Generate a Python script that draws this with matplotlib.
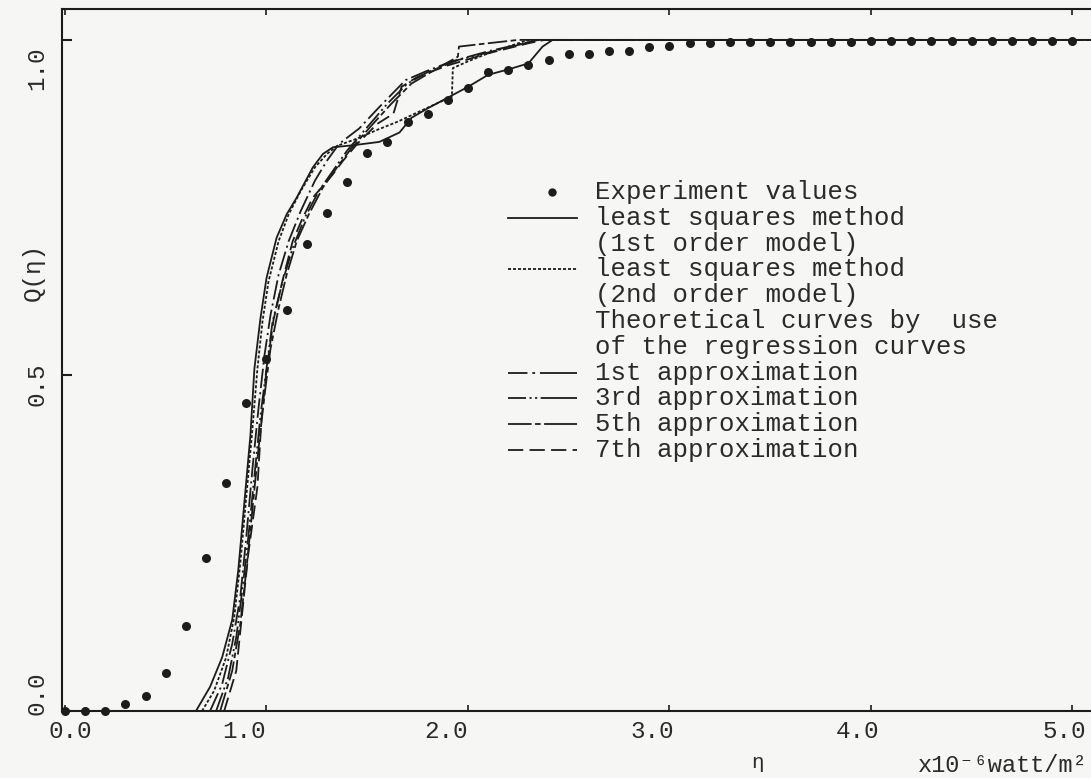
import matplotlib
matplotlib.use("Agg")
import matplotlib.pyplot as plt
from matplotlib.lines import Line2D

plt.rcParams['font.family'] = ['Liberation Mono', 'DejaVu Sans Mono']
plt.rcParams['lines.scale_dashes'] = False

# measured exceedance Q(eta), eta in 1e-6 W/m^2, step 0.1
eta_exp = [0.0, 0.1, 0.2, 0.3, 0.4, 0.5, 0.6, 0.7, 0.8, 0.9,
           1.0, 1.1, 1.2, 1.3, 1.4, 1.5, 1.6, 1.7, 1.8, 1.9,
           2.0, 2.1, 2.2, 2.3, 2.4, 2.5, 2.6, 2.7, 2.8, 2.9,
           3.0, 3.1, 3.2, 3.3, 3.4, 3.5, 3.6, 3.7, 3.8, 3.9,
           4.0, 4.1, 4.2, 4.3, 4.4, 4.5, 4.6, 4.7, 4.8, 4.9, 5.0]
q_exp = [0.0, 0.0, 0.0, 0.010, 0.022, 0.057, 0.127, 0.228, 0.340, 0.459,
         0.524, 0.598, 0.696, 0.742, 0.788, 0.832, 0.848, 0.877, 0.890, 0.910,
         0.928, 0.952, 0.955, 0.963, 0.970, 0.979, 0.979, 0.984, 0.984, 0.990,
         0.991, 0.995, 0.996, 0.997, 0.997, 0.997, 0.997, 0.997, 0.997, 0.997,
         0.998, 0.998, 0.998, 0.998, 0.998, 0.998, 0.998, 0.998, 0.998, 0.998, 0.998]

# least squares, 1st order model
eta_ls1 = [0.65, 0.72, 0.78, 0.83, 0.86, 0.89, 0.92, 0.94, 0.97, 1.00, 1.05, 1.10, 1.15,
           1.23, 1.28, 1.33, 1.43, 1.56, 1.66, 1.72, 1.80, 1.90, 2.00, 2.10, 2.20, 2.30,
           2.37, 2.42, 5.10]
q_ls1 = [0.0, 0.036, 0.08, 0.136, 0.21, 0.31, 0.41, 0.51, 0.585, 0.645, 0.705, 0.74, 0.765,
         0.81, 0.83, 0.84, 0.843, 0.848, 0.862, 0.884, 0.898, 0.914, 0.93, 0.948, 0.956, 0.965,
         0.99, 1.0, 1.0]

# least squares, 2nd order model
eta_ls2 = [0.68, 0.74, 0.80, 0.84, 0.87, 0.90, 0.93, 0.955, 0.98, 1.01, 1.06, 1.11, 1.17,
           1.24, 1.30, 1.35, 1.45, 1.55, 1.65, 1.75, 1.85, 1.92, 1.925, 2.00, 2.10, 2.20,
           2.30, 5.10]
q_ls2 = [0.0, 0.03, 0.08, 0.14, 0.22, 0.32, 0.42, 0.51, 0.58, 0.64, 0.70, 0.74, 0.775,
         0.81, 0.83, 0.842, 0.853, 0.866, 0.878, 0.892, 0.906, 0.915, 0.958, 0.968, 0.98, 0.99,
         1.0, 1.0]

# theoretical curves from the regression curves
eta_ap1 = [0.72, 0.78, 0.83, 0.87, 0.90, 0.93, 0.96, 0.99, 1.02, 1.06, 1.11, 1.17, 1.24,
           1.30, 1.36, 1.46, 1.56, 1.69, 1.79, 1.92, 2.10, 2.35, 5.10]
q_ap1 = [0.0, 0.04, 0.10, 0.17, 0.26, 0.36, 0.45, 0.53, 0.59, 0.65, 0.70, 0.745, 0.79,
         0.82, 0.845, 0.868, 0.90, 0.94, 0.953, 0.968, 0.983, 1.0, 1.0]

eta_ap3 = [0.75, 0.81, 0.85, 0.88, 0.91, 0.94, 0.97, 1.00, 1.03, 1.08, 1.13, 1.19, 1.26,
           1.33, 1.40, 1.50, 1.60, 1.70, 1.80, 1.95, 2.15, 2.35, 5.10]
q_ap3 = [0.0, 0.05, 0.11, 0.18, 0.26, 0.35, 0.44, 0.51, 0.58, 0.64, 0.69, 0.735, 0.775,
         0.805, 0.835, 0.87, 0.905, 0.935, 0.952, 0.97, 0.985, 1.0, 1.0]

eta_ap5 = [0.77, 0.83, 0.87, 0.90, 0.93, 0.96, 0.99, 1.02, 1.06, 1.10, 1.15, 1.21, 1.28,
           1.35, 1.42, 1.52, 1.62, 1.72, 1.85, 1.95, 1.955, 2.10, 2.25, 5.10]
q_ap5 = [0.0, 0.06, 0.13, 0.21, 0.30, 0.39, 0.47, 0.54, 0.60, 0.65, 0.70, 0.74, 0.78,
         0.81, 0.838, 0.872, 0.905, 0.935, 0.958, 0.975, 0.99, 0.995, 1.0, 1.0]

eta_ap7 = [0.79, 0.85, 0.876, 0.91, 0.955, 0.975, 1.00, 1.035, 1.08, 1.13, 1.18, 1.23,
           1.33, 1.38, 1.45, 1.55, 1.63, 1.67, 1.75, 1.90, 2.10, 2.30, 2.38, 5.10]
q_ap7 = [0.0, 0.06, 0.136, 0.235, 0.334, 0.434, 0.508, 0.583, 0.642, 0.70, 0.735, 0.765,
         0.80, 0.82, 0.845, 0.875, 0.89, 0.93, 0.945, 0.962, 0.98, 0.995, 1.0, 1.0]

xticks = [0.0, 1.0, 2.0, 3.0, 4.0, 5.0]
xtick_labels = ['0.0', '1.0', '2.0', '3.0', '4.0', '5.0']
yticks = [0.0, 0.5, 1.0]
ytick_labels = ['0.0', '0.5', '1.0']

legend_rows = ['Experiment values',
               'least squares method',
               '(1st order model)',
               'least squares method',
               '(2nd order model)',
               'Theoretical curves by  use',
               'of the regression curves',
               '1st approximation',
               '3rd approximation',
               '5th approximation',
               '7th approximation']

ink = '#1c1c1c'
paper = '#f6f6f4'

dash_ls1 = '-'
dash_ls2 = (0, (2.2, 1.4))
dash_ap1 = (0, (14, 3, 1.5, 3))
dash_ap3 = (0, (14, 2.5, 1.5, 2.5, 1.5, 2.5))
dash_ap5 = (0, (14, 2.5, 4, 2.5))
dash_ap7 = (0, (10, 4))

fig = plt.figure(figsize=(10.91, 7.78), dpi=100, facecolor=paper)
ax = fig.add_axes([0.0568, 0.0861, 0.9432, 0.9023])
ax.set_facecolor(paper)

lw = 1.3
ax.plot(eta_ls1, q_ls1, color=ink, lw=lw, ls=dash_ls1)
ax.plot(eta_ls2, q_ls2, color=ink, lw=lw, ls=dash_ls2)
ax.plot(eta_ap1, q_ap1, color=ink, lw=lw, ls=dash_ap1)
ax.plot(eta_ap3, q_ap3, color=ink, lw=lw, ls=dash_ap3)
ax.plot(eta_ap5, q_ap5, color=ink, lw=lw, ls=dash_ap5)
ax.plot(eta_ap7, q_ap7, color=ink, lw=lw, ls=dash_ap7)
ax.plot(eta_exp, q_exp, 'o', color=ink, ms=6.5, mec='none', clip_on=False, zorder=5)

ax.set_xlim(-0.015, 5.092)
ax.set_ylim(0.0, 1.046)

for side in ['left', 'bottom', 'top']:
    ax.spines[side].set_linewidth(1.5)
    ax.spines[side].set_color(ink)
ax.spines['right'].set_visible(False)

ax.set_xticks(xticks)
ax.set_xticklabels([])
ax.set_yticks(yticks)
ax.set_yticklabels([])
ax.tick_params(axis='x', direction='in', length=4, width=1.2, color=ink, top=True)
ax.tick_params(axis='y', direction='in', length=7, width=1.5, color=ink)

# tick labels, nudged the way the old plotter placed them
txt = dict(color='#2a2a2a', fontsize=17.5)
xlab_dx = [5, -22, -22, -17, -13, -8]
for v, s, dx in zip(xticks, xtick_labels, xlab_dx):
    ax.annotate(s, xy=(v, 0), xycoords=('data', 'axes fraction'),
                xytext=(dx, -20), textcoords='offset pixels',
                ha='center', va='center', **txt)
ylab_dy = [18, -9, -28]
for v, s, dy in zip(yticks, ytick_labels, ylab_dy):
    ax.annotate(s, xy=(0, v), xycoords=('axes fraction', 'data'),
                xytext=(-25, dy), textcoords='offset pixels',
                ha='center', va='center', rotation=90, **txt)

W, H = 1091, 778
fig.text(33 / W, 1 - 272 / H, 'Q(η)', rotation=90, ha='center', va='center', **txt)
fig.text(757 / W, 1 - 763 / H, 'η', ha='center', va='center', color='#2a2a2a', fontsize=15)
fig.text(1088 / W, 1 - 765 / H, 'x10⁻⁶watt/m²', ha='right', va='center',
         color='#2a2a2a', fontsize=17)

# hand-drawn key; short samples get their own dash layout so each reads as one unit
key_txt = dict(color='#2a2a2a', fontsize=18.5)
row_y0, row_dy = 192, 25.8
x_txt, x_l0, x_l1 = 595, 508, 577
samples = {
    0: 'dot',
    1: '-',
    3: (0, (2.2, 1.4)),
    7: (0, (14, 3.5, 2, 3.5, 40, 5)),
    8: (0, (13, 2.5, 1.5, 2.5, 1.5, 2.5, 40, 5)),
    9: (0, (17, 2.5, 4, 2.5, 40, 5)),
    10: (0, (11, 4.5)),
}
for i, row in enumerate(legend_rows):
    yp = row_y0 + i * row_dy
    fy = 1 - yp / H
    fig.text(x_txt / W, fy, row, ha='left', va='center', **key_txt)
    if i in samples:
        if samples[i] == 'dot':
            fig.add_artist(Line2D([552 / W], [fy], marker='o', ms=6, color=ink, mec='none',
                                  transform=fig.transFigure))
        else:
            fig.add_artist(Line2D([x_l0 / W, x_l1 / W], [fy, fy], lw=lw, ls=samples[i], color=ink,
                                  transform=fig.transFigure))

fig.savefig('out.png', dpi=100, facecolor=paper)
